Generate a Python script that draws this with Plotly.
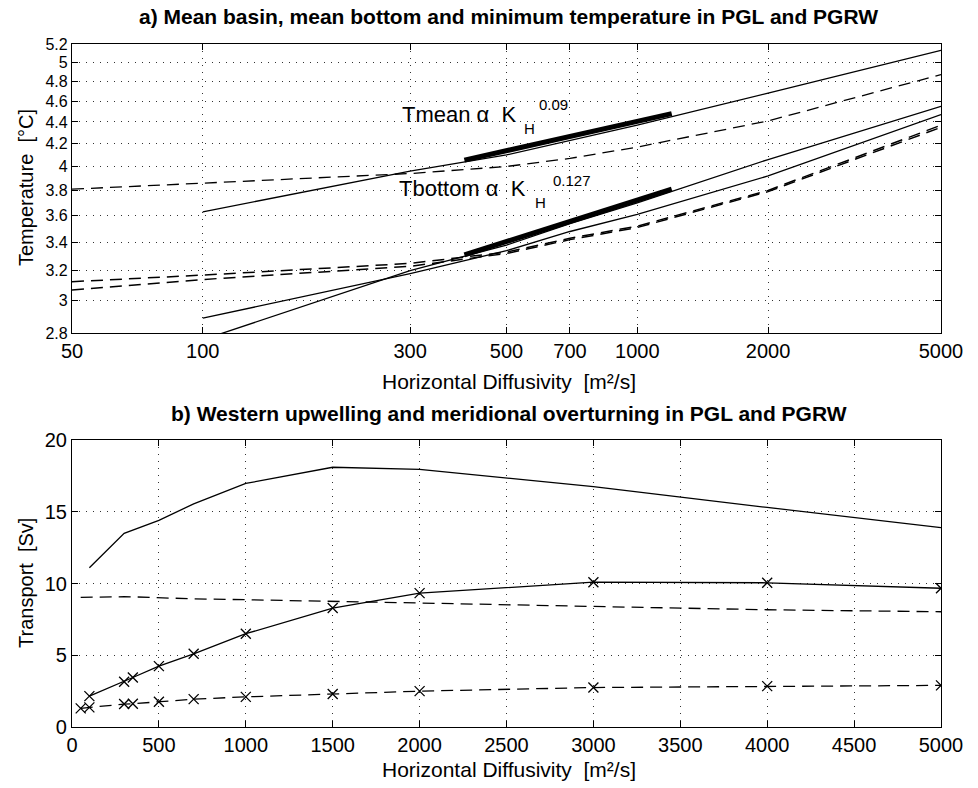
import plotly.graph_objects as go

# ---------------- data: panel a (temperature vs K_H, log-log) ----------------
a_x_tmean_solid = [100, 300, 500, 700, 1000, 2000, 5000]
a_y_tmean_solid = [3.63, 3.96, 4.10, 4.23, 4.37, 4.68, 5.13]

a_x_tmean_dash = [50, 100, 300, 500, 700, 1000, 2000, 5000]
a_y_tmean_dash = [3.81, 3.86, 3.94, 4.00, 4.07, 4.17, 4.41, 4.87]

a_x_tbot_solid1 = [100, 300, 500, 700, 1000, 2000, 5000]
a_y_tbot_solid1 = [2.76, 3.20, 3.38, 3.54, 3.70, 4.06, 4.55]

a_x_tbot_solid2 = [100, 300, 500, 700, 1000, 2000, 5000]
a_y_tbot_solid2 = [2.89, 3.18, 3.34, 3.48, 3.61, 3.92, 4.47]

a_x_tmin_dash1 = [50, 100, 300, 500, 700, 1000, 2000, 5000]
a_y_tmin_dash1 = [3.125, 3.17, 3.25, 3.33, 3.43, 3.52, 3.80, 4.37]

a_x_tmin_dash2 = [50, 100, 300, 500, 700, 1000, 2000, 5000]
a_y_tmin_dash2 = [3.07, 3.14, 3.23, 3.32, 3.42, 3.51, 3.79, 4.35]

fit_x = [400, 1200]
fit_tmean = [4.055, 4.48]
fit_tbottom = [3.31, 3.81]

a_xticks = [50, 100, 300, 500, 700, 1000, 2000, 5000]
a_yticks = [2.8, 3, 3.2, 3.4, 3.6, 3.8, 4, 4.2, 4.4, 4.6, 4.8, 5, 5.2]
a_yticklabels = ["2.8", "3", "3.2", "3.4", "3.6", "3.8", "4", "4.2", "4.4", "4.6", "4.8", "5", "5.2"]

# ---------------- data: panel b (transport vs K_H) ----------------
b_x_top = [100, 300, 500, 700, 1000, 1500, 2000, 3000, 4000, 5000]
b_y_top = [11.1, 13.5, 14.4, 15.55, 16.97, 18.1, 17.95, 16.75, 15.3, 13.9]

b_x_dash9 = [50, 100, 300, 350, 500, 700, 1000, 1500, 2000, 3000, 4000, 5000]
b_y_dash9 = [9.03, 9.05, 9.08, 9.07, 9.0, 8.93, 8.87, 8.77, 8.64, 8.4, 8.17, 8.03]

b_x_solid_x = [100, 300, 350, 500, 700, 1000, 1500, 2000, 3000, 4000, 5000]
b_y_solid_x = [2.15, 3.15, 3.45, 4.24, 5.1, 6.5, 8.29, 9.33, 10.09, 10.05, 9.67]

b_x_dash_x = [50, 100, 300, 350, 500, 700, 1000, 1500, 2000, 3000, 4000, 5000]
b_y_dash_x = [1.3, 1.37, 1.6, 1.62, 1.76, 1.94, 2.1, 2.3, 2.5, 2.75, 2.85, 2.9]

b_xticks = [0, 500, 1000, 1500, 2000, 2500, 3000, 3500, 4000, 4500, 5000]
b_yticks = [0, 5, 10, 15, 20]

# ---------------- styling ----------------
FONT = "Liberation Sans, Arial, Helvetica, sans-serif"
DASH = "12px,7px"
W = 978
H = 788
NB = "\u00a0\u00a0"

fig = go.Figure()

def add(x, y, dash="solid", width=1.3, xa="x", ya="y", marker=False):
    fig.add_trace(go.Scatter(
        x=x, y=y, xaxis=xa, yaxis=ya,
        mode="lines+markers" if marker else "lines",
        line=dict(color="black", width=width, dash=dash),
        marker=dict(symbol="x-thin-open", size=10, line=dict(color="black", width=1.3)),
        showlegend=False, hoverinfo="skip"))

# panel a
add(a_x_tmean_solid, a_y_tmean_solid)
add(a_x_tmean_dash, a_y_tmean_dash, dash=DASH)
add(a_x_tbot_solid1, a_y_tbot_solid1)
add(a_x_tbot_solid2, a_y_tbot_solid2)
add(a_x_tmin_dash1, a_y_tmin_dash1, dash=DASH, width=1.5)
add(a_x_tmin_dash2, a_y_tmin_dash2, dash=DASH, width=1.5)
add(fit_x, fit_tmean, width=5)
add(fit_x, fit_tbottom, width=5)

# panel b
add(b_x_top, b_y_top, xa="x2", ya="y2")
add(b_x_dash9, b_y_dash9, dash=DASH, xa="x2", ya="y2")
add(b_x_solid_x, b_y_solid_x, xa="x2", ya="y2", marker=True)
add(b_x_dash_x, b_y_dash_x, dash=DASH, xa="x2", ya="y2", marker=True)

def axis_common(size=20):
    return dict(
        showline=True, linecolor="black", linewidth=1.2, mirror="ticks",
        ticks="inside", ticklen=6, tickcolor="black", tickwidth=1,
        showgrid=True, gridcolor="#333", gridwidth=1, griddash="1px,6px",
        zeroline=False, automargin=False,
        tickfont=dict(family=FONT, size=size, color="black"),
    )

xd = [72 / W, 941 / W]
fig.update_layout(
    template="none",
    width=W, height=H, margin=dict(l=0, r=0, t=0, b=0, pad=0),
    paper_bgcolor="white", plot_bgcolor="white",
    xaxis=dict(domain=xd, anchor="y", type="log",
               range=[1.69897, 3.69897], tickvals=a_xticks,
               ticktext=[str(v) for v in a_xticks], **axis_common(20)),
    yaxis=dict(domain=[455 / H, 744 / H], anchor="x", type="log",
               range=[0.447158, 0.716003], tickvals=a_yticks,
               ticktext=a_yticklabels, **axis_common(16)),
    xaxis2=dict(domain=xd, anchor="y2", range=[0, 5000],
                tickvals=b_xticks, **axis_common(20)),
    yaxis2=dict(domain=[61 / H, 348 / H], anchor="x2", range=[0, 20],
                tickvals=b_yticks, **axis_common(20)),
)

def ann(text, px, py, size=19, bold=False, angle=0, xanchor="center"):
    fig.add_annotation(
        text=f"<b>{text}</b>" if bold else text,
        x=px / W, y=1 - py / H, xref="paper", yref="paper",
        xanchor=xanchor, yanchor="middle", showarrow=False, textangle=angle,
        font=dict(family=FONT, size=size, color="black"))

ann("a) Mean basin, mean bottom and minimum temperature in PGL and PGRW", 509, 17, size=21, bold=True)
ann("b) Western upwelling and meridional overturning in PGL and PGRW", 509, 413, size=21, bold=True)
ann("Horizontal Diffusivity" + NB + "[m²/s]", 509, 381, size=21)
ann("Horizontal Diffusivity" + NB + "[m²/s]", 509, 769, size=21)
ann("Temperature" + NB + "[°C]", 26, 188, size=20, angle=-90)
ann("Transport" + NB + "[Sv]", 26, 583, size=20, angle=-90)

# fit-law labels
ann("Tmean α" + NB + "K", 400, 114, size=22, xanchor="left")
ann("H", 522, 128, size=15, xanchor="left")
ann("0.09", 537, 105, size=15, xanchor="left")
ann("Tbottom α" + NB + "K", 397, 189, size=22, xanchor="left")
ann("H", 533, 203, size=15, xanchor="left")
ann("0.127", 551, 181, size=15, xanchor="left")

fig.write_html("out.html")
